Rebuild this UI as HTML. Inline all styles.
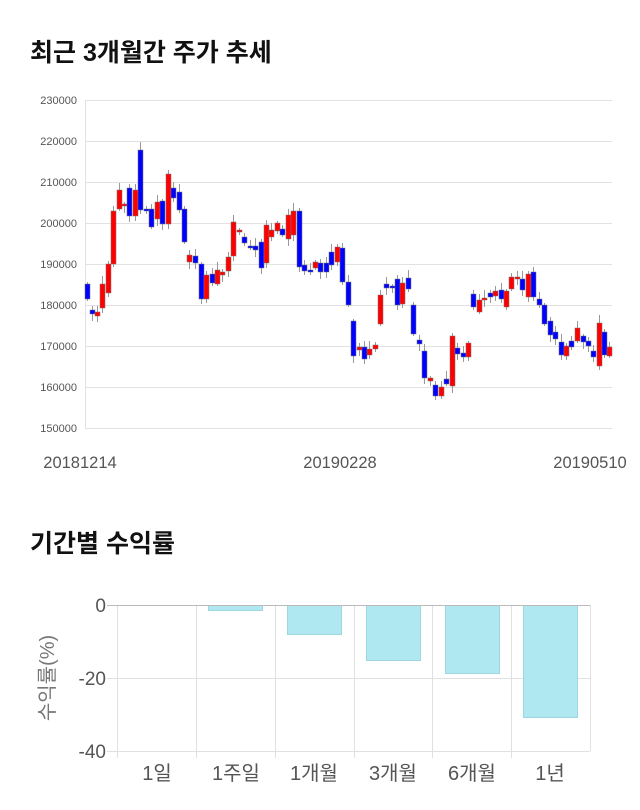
<!DOCTYPE html>
<html><head><meta charset="utf-8">
<style>
html,body{margin:0;padding:0;background:#fff;}
svg{display:block;font-family:"Liberation Sans","Noto Sans CJK KR",sans-serif;}
</style></head><body>
<svg id="s" width="640" height="810" viewBox="0 0 640 810" xmlns="http://www.w3.org/2000/svg">
<text x="30" y="61" font-size="25" font-weight="bold" fill="#111">최근 3개월간 주가 추세</text>
<g stroke="#e2e2e2" stroke-width="1">
<line x1="85" y1="100.5" x2="612" y2="100.5"/>
<line x1="85" y1="141.5" x2="612" y2="141.5"/>
<line x1="85" y1="182.5" x2="612" y2="182.5"/>
<line x1="85" y1="223.5" x2="612" y2="223.5"/>
<line x1="85" y1="264.5" x2="612" y2="264.5"/>
<line x1="85" y1="305.5" x2="612" y2="305.5"/>
<line x1="85" y1="346.5" x2="612" y2="346.5"/>
<line x1="85" y1="387.5" x2="612" y2="387.5"/>
<line x1="85" y1="428.5" x2="612" y2="428.5"/>
<line x1="85.5" y1="100" x2="85.5" y2="428"/>
</g>
<g font-size="11" fill="#555" text-anchor="end">
<text x="77" y="104">230000</text><text x="77" y="145">220000</text><text x="77" y="186">210000</text>
<text x="77" y="227">200000</text><text x="77" y="268">190000</text><text x="77" y="309">180000</text>
<text x="77" y="350">170000</text><text x="77" y="391">160000</text><text x="77" y="432">150000</text>
</g>
<g font-size="16.5" fill="#555" text-anchor="middle">
<text x="80" y="468">20181214</text><text x="340" y="468">20190228</text><text x="590" y="468">20190510</text>
</g>
<g id="c"></g>

<text x="30" y="552" font-size="25" font-weight="bold" fill="#111">기간별 수익률</text>
<g stroke="#e0e0e0" stroke-width="1">
<line x1="117.5" y1="605" x2="117.5" y2="758"/>
<line x1="196.5" y1="605" x2="196.5" y2="758"/>
<line x1="275.5" y1="605" x2="275.5" y2="758"/>
<line x1="354.5" y1="605" x2="354.5" y2="758"/>
<line x1="432.5" y1="605" x2="432.5" y2="758"/>
<line x1="511.5" y1="605" x2="511.5" y2="758"/>
<line x1="590.5" y1="605" x2="590.5" y2="751"/>
<line x1="107" y1="678.5" x2="590" y2="678.5"/>
<line x1="107" y1="751.5" x2="590" y2="751.5"/>
</g>
<g fill="#b0e8f2" stroke="#9fd6e0" stroke-width="1">
<rect x="208.5" y="605.5" width="54" height="5"/>
<rect x="287.5" y="605.5" width="54" height="29"/>
<rect x="366.5" y="605.5" width="54" height="55"/>
<rect x="445.5" y="605.5" width="54" height="68"/>
<rect x="523.5" y="605.5" width="54" height="112"/>
</g>
<line x1="107" y1="605.5" x2="590" y2="605.5" stroke="#bbb"/>
<g font-size="19" fill="#555" text-anchor="end">
<text x="106" y="612">0</text><text x="106" y="685">-20</text><text x="106" y="758">-40</text>
</g>
<text transform="translate(54,678) rotate(-90)" font-size="20" fill="#777" text-anchor="middle">수익률(%)</text>
<g font-size="20" fill="#555" text-anchor="middle">
<text x="157" y="780">1일</text><text x="236" y="780">1주일</text><text x="314" y="780">1개월</text>
<text x="393" y="780">3개월</text><text x="472" y="780">6개월</text><text x="550" y="780">1년</text>
</g>
</svg>
<script>
var d=[[87,284,299,'b'],[92,310,314,'b'],[97,312,316,'r'],[102,284,308,'r'],[108,264,293,'r'],[113,211,264,'r'],[119,190,209,'r'],[124,204,206,'r'],[129,188,216,'b'],[135,190,216,'r'],[140,150,210,'b'],[146,209,211,'b'],[151,209,227,'b'],[157,202,219,'r'],[162,201,224,'b'],[168,174,224,'r'],[173,188,198,'b'],[179,192,210,'b'],[184,209,242,'b'],[189,255,262,'r'],[195,256,263,'b'],[201,264,299,'b'],[206,275,299,'r'],[212,274,283,'b'],[217,270,284,'r'],[222,272,275,'r'],[228,257,271,'r'],[233,222,256,'r'],[239,230,231,'r'],[244,237,243,'b'],[250,246,248,'b'],[255,246,250,'b'],[261,242,268,'b'],[266,225,263,'r'],[271,230,237,'r'],[277,223,231,'r'],[282,229,235,'b'],[288,215,239,'r'],[293,211,235,'r'],[299,211,267,'b'],[304,265,271,'b'],[310,270,272,'b'],[315,262,268,'r'],[320,263,272,'b'],[326,263,272,'b'],[331,252,265,'b'],[337,247,262,'r'],[342,248,282,'b'],[348,282,305,'b'],[353,321,356,'b'],[359,347,350,'r'],[364,347,359,'b'],[369,349,355,'r'],[375,345,349,'r'],[380,295,324,'r'],[386,284,288,'b'],[392,286,287,'b'],[397,279,305,'b'],[402,283,304,'r'],[408,278,289,'b'],[413,305,334,'b'],[419,340,344,'b'],[424,351,378,'b'],[430,378,381,'r'],[435,385,396,'b'],[441,387,396,'r'],[446,379,384,'b'],[452,336,386,'r'],[457,348,354,'b'],[463,353,357,'b'],[468,343,357,'r'],[473,294,307,'b'],[479,300,312,'r'],[484,298,300,'r'],[490,293,297,'b'],[495,291,296,'r'],[501,290,299,'b'],[506,291,307,'r'],[511,277,289,'r'],[517,277,278,'r'],[522,279,290,'b'],[528,274,297,'r'],[533,272,297,'b'],[539,299,305,'b'],[544,305,324,'b'],[550,321,335,'b'],[555,332,339,'b'],[561,342,355,'b'],[566,346,356,'r'],[571,341,347,'b'],[577,328,341,'r'],[583,336,342,'b'],[588,341,346,'b'],[593,351,357,'b'],[599,323,366,'r'],[604,332,355,'b'],[609,347,356,'r']];
var h='';
for(var i=0;i<d.length;i++){var c=d[i];var a=((i*37)%7)+2,b=((i*53)%6)+2;
h+='<line x1="'+(c[0]+0.5)+'" y1="'+(c[1]-a)+'" x2="'+(c[0]+0.5)+'" y2="'+(c[2]+b)+'" stroke="#999"/>';
h+='<rect x="'+(c[0]-2)+'" y="'+c[1]+'" width="5" height="'+Math.max(2,c[2]-c[1])+'" fill="'+(c[3]=='r'?'#f00':'#00f')+'" stroke="#777" stroke-width="0.5"/>';}
document.getElementById('c').innerHTML=h;
</script>
</body></html>
